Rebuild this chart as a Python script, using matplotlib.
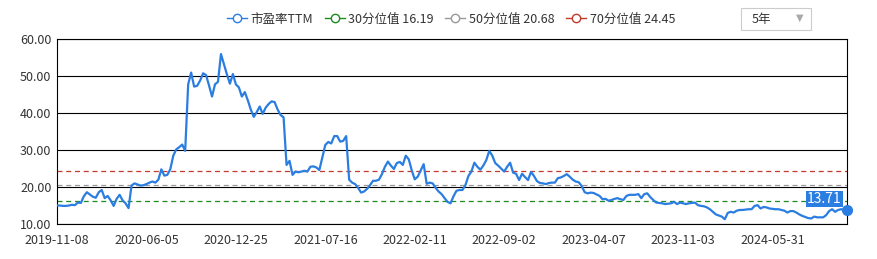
import matplotlib
matplotlib.use("Agg")
import matplotlib.pyplot as plt
from matplotlib.lines import Line2D
from matplotlib.patches import Rectangle

plt.rcParams['font.family'] = ['Noto Sans CJK SC', 'DejaVu Sans']

# weekly PE TTM, starting 2019-11-08
pe_ttm = [
    15.0, 15.0, 14.9, 14.9, 15.0, 15.2, 15.1, 15.8, 15.7, 17.5,
    18.6, 18.0, 17.4, 17.1, 18.6, 19.2, 17.0, 17.6, 16.4, 14.9,
    16.8, 17.9, 16.4, 15.6, 14.3, 20.4, 21.0, 20.7, 20.4, 20.5,
    20.8, 21.2, 21.5, 21.2, 22.0, 24.8, 23.1, 23.3, 24.8, 28.5,
    30.2, 30.8, 31.5, 29.8, 47.8, 51.0, 47.2, 47.4, 48.8, 50.8,
    50.3, 47.5, 44.5, 47.8, 48.5, 56.0, 53.2, 50.5, 48.0, 50.6,
    47.8, 47.0, 44.5, 45.7, 43.5, 41.0, 39.0, 40.3, 41.8, 39.8,
    41.5, 42.5, 43.2, 43.0, 41.0, 39.5, 38.9, 26.0, 27.1, 23.3,
    24.2, 24.0, 24.2, 24.4, 24.2, 25.5, 25.6, 25.3, 24.6, 28.0,
    31.4, 32.2, 31.8, 33.8, 33.8, 32.3, 32.5, 33.8, 22.0, 21.2,
    20.8, 19.8, 18.5, 18.8, 19.5, 20.5, 21.7, 21.7, 22.0, 23.5,
    25.5, 26.9, 25.8, 24.9, 26.5, 26.8, 26.0, 28.5, 27.5, 24.5,
    22.1, 22.8, 24.5, 26.2, 20.9, 21.2, 21.0, 19.8, 18.8, 18.1,
    17.0, 16.0, 15.6, 17.5, 19.0, 19.2, 19.2, 20.5, 23.0, 24.2,
    26.6, 25.5, 24.7, 25.8, 27.3, 29.8, 28.5, 26.5, 25.8, 25.0,
    24.2, 25.5, 26.6, 23.9, 23.6, 21.9, 23.6, 22.7, 21.9, 24.1,
    23.0, 21.6, 21.1, 21.0, 20.8, 21.1, 21.2, 21.2, 22.4, 22.6,
    23.0, 23.5, 22.8, 22.0, 21.5, 21.3, 20.3, 18.6, 18.3, 18.5,
    18.4, 18.0, 17.6, 16.7, 16.8, 16.3, 16.5, 16.8, 17.0, 16.7,
    16.5, 17.6, 17.9, 17.9, 17.9, 18.1, 17.0, 18.1, 18.3, 17.3,
    16.5, 15.8, 15.7, 15.6, 15.4, 15.5, 15.6, 16.0, 15.4, 15.8,
    15.6, 15.4, 15.6, 15.7, 15.8, 15.1, 14.9, 14.8, 14.5, 14.0,
    13.3, 12.6, 12.3, 12.0, 11.3, 13.0, 13.3, 13.1, 13.6, 13.8,
    13.8, 13.9, 14.0, 14.0, 14.9, 15.1, 14.2, 14.6, 14.5, 14.2,
    14.1, 14.0, 14.0, 13.8, 13.6, 13.1, 13.5, 13.5, 13.1, 12.6,
    12.2, 11.9, 11.6, 11.5, 12.0, 11.8, 11.8, 11.8, 12.4, 13.5,
    14.0, 13.3, 13.8, 14.0, 13.8, 13.71,
]
# one label every 30 points
date_labels = ["2019-11-08", "2020-06-05", "2020-12-25", "2021-07-16", "2022-02-11",
               "2022-09-02", "2023-04-07", "2023-11-03", "2024-05-31"]

pct_names = ["30分位值", "50分位值", "70分位值"]
pct_values = [16.19, 20.68, 24.45]
pct_colors = ["#1f8a1f", "#999999", "#c23a2b"]
line_color = "#2a7de1"

fig = plt.figure(figsize=(8.77, 2.59), dpi=100)
ax = fig.add_axes([57 / 877, 35 / 259, 790 / 877, 184.7 / 259])

x = range(len(pe_ttm))
for v, c in zip(pct_values, pct_colors):
    ax.axhline(v, color=c, lw=0.9, ls=(0, (4, 3)), zorder=2)
ax.plot(x, pe_ttm, color=line_color, lw=1.6, zorder=3)
ax.plot(len(pe_ttm) - 1, pe_ttm[-1], "o", color=line_color, ms=7, zorder=4, clip_on=False)
ax.annotate(f"{pe_ttm[-1]:.2f}", xy=(len(pe_ttm) - 1, pe_ttm[-1]), xytext=(-4, 3),
            textcoords="offset points", ha="right", va="bottom", color="white", fontsize=10,
            bbox=dict(boxstyle="square,pad=0.08", fc=line_color, ec="none"), zorder=5)

ax.set_xlim(0, len(pe_ttm) - 1)
ax.set_ylim(10, 60)
ax.set_yticks(range(10, 61, 10))
ax.set_yticklabels([f"{v:.2f}" for v in range(10, 61, 10)])
ax.set_xticks(range(0, 30 * len(date_labels), 30))
ax.set_xticklabels(date_labels)
ax.tick_params(length=0, labelsize=9, colors="#333333", pad=4)
ax.tick_params(axis="x", pad=7)
ax.grid(axis="y", color="black", lw=0.8, zorder=1)
for s in ax.spines.values():
    s.set_color("black")
    s.set_linewidth(0.8)

handles = [Line2D([], [], color=line_color, marker="o", mfc="white", ms=6, lw=1)]
labels = ["市盈率TTM"]
for n, v, c in zip(pct_names, pct_values, pct_colors):
    handles.append(Line2D([], [], color=c, marker="o", mfc="white", ms=6, lw=1))
    labels.append(f"{n} {v}")
fig.legend(handles, labels, loc="center", bbox_to_anchor=(451 / 877, 1 - 19 / 259), ncol=4,
           frameon=False, fontsize=9, handlelength=1.6, handletextpad=0.3, columnspacing=0.9,
           labelcolor="#333333")

# period selector box
fig.patches.append(Rectangle((741 / 877, 1 - 30 / 259), 70 / 877, 22 / 259, transform=fig.transFigure,
                             fc="white", ec="#cccccc", lw=0.8))
fig.text(752 / 877, 1 - 19 / 259, "5年", fontsize=9, va="center", color="#333333")
fig.text(800 / 877, 1 - 18 / 259, "▼", fontsize=7, va="center", ha="center", color="#aaaaaa",
         family="DejaVu Sans")

fig.savefig("out.png", dpi=100)
